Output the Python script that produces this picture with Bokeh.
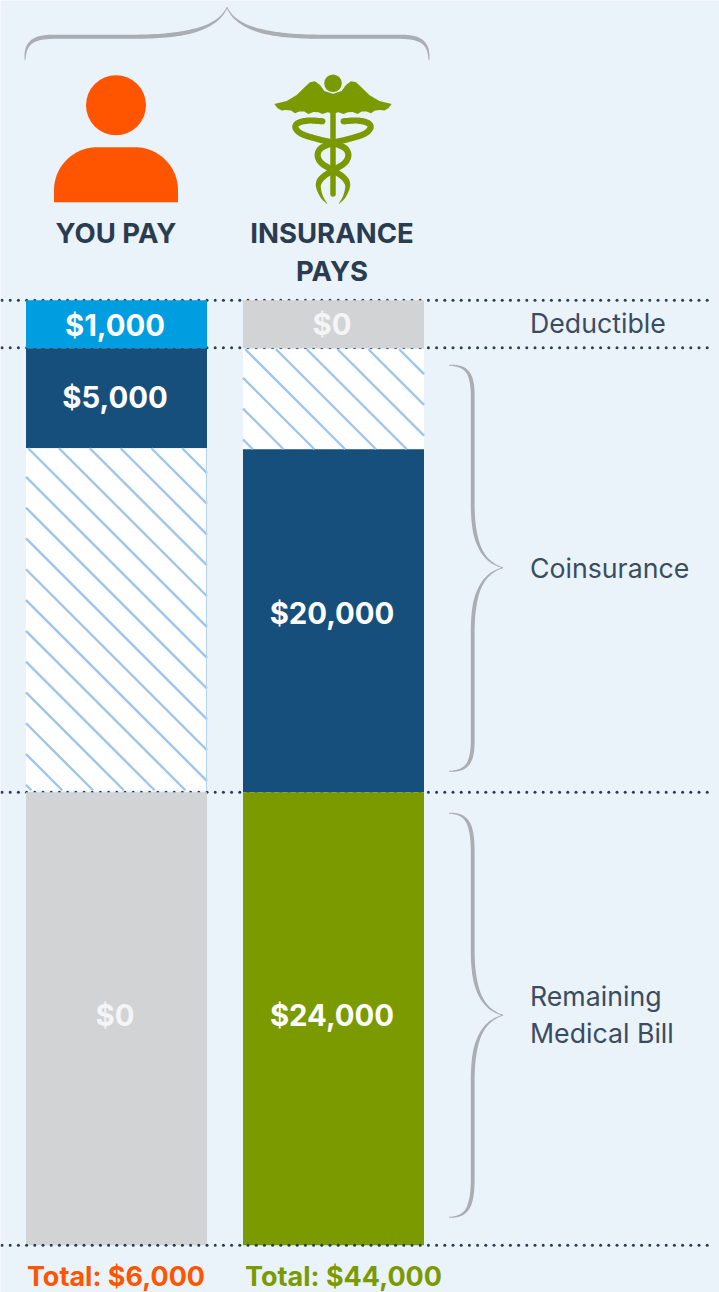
import numpy as np
from bokeh.plotting import figure
from bokeh.models import Range1d
from bokeh.core.properties import value
from bokeh.embed import file_html
from bokeh.resources import INLINE

# ---- chart content
rows = ["Deductible", "Coinsurance", "Coinsurance share", "Remaining Medical Bill"]
you_labels = ["$1,000", "$5,000", "", "$0"]
ins_labels = ["$0", "", "$20,000", "$24,000"]
you_heights = [48, 100, 342, 453]      # drawn heights, not proportional to dollars
ins_heights = [48, 100, 343, 453]
you_gaps = [0, 0, 2, 0]
ins_gaps = [1, 0, 0, 0]
you_colors = ["#009ee0", "#174f7c", "#ffffff", "#d2d3d5"]
ins_colors = ["#d2d3d5", "#ffffff", "#174f7c", "#7a9a00"]
you_total = "Total: $6,000"
ins_total = "Total: $44,000"
headers = ["YOU PAY", ["INSURANCE", "PAYS"]]
band_labels = [["Deductible"], ["Coinsurance"], ["Remaining", "Medical Bill"]]

# ---- layout
W, H = 719, 1292
BG = "#eaf2fa"; INK = "#2a3d50"; ORANGE = "#ff5500"; GREEN = "#7a9a00"
BRACE = "#aaadb2"; HATCH = "#9fc6ea"
FONT = value("Inter")
BAR_TOP = 300; BAR_W = 181
X_YOU = 116.5; X_INS = 333.5
YOU_LABEL_Y = [325, 397, 0, 1015]
INS_LABEL_Y = [324, 0, 613, 1015]
SHIFT_X = 0.5; SHIFT_Y = 0.25

p = figure(width=W, height=H, x_range=Range1d(SHIFT_X, W + SHIFT_X), y_range=Range1d(H + SHIFT_Y, SHIFT_Y),
           toolbar_location=None, output_backend="svg", min_border=0,
           background_fill_color=BG, border_fill_color=BG, outline_line_color=None)
p.axis.visible = False
p.grid.visible = False
p.styles = {"position": "absolute", "left": "0px", "top": "0px"}


def dotted(y):
    xs = np.arange(2, 712, 8.2)
    p.scatter(xs, np.full_like(xs, y), size=3, marker="circle", fill_color=INK, line_color=None)


for y in (300, 347.5, 792):
    dotted(y)


def hatch_lines(x0, x1, y0, y1, c0, period=30.8):
    xs, ys = [], []
    k0 = int(np.floor(((x0 - y1) - c0) / period))
    k1 = int(np.ceil(((x1 - y0) - c0) / period))
    for k in range(k0, k1 + 1):
        c = c0 + k * period             # line: x - y = c
        a_y = max(y0, x0 - c); b_y = min(y1, x1 - c)
        if b_y > a_y:
            xs.append([a_y + c, b_y + c]); ys.append([a_y, b_y])
    return xs, ys


def column(xc, heights, gaps, colors, labels, label_y, c0):
    h = np.array(heights, float); g = np.array(gaps, float)
    tops = BAR_TOP + np.concatenate([[0], np.cumsum(h + g)[:-1]])
    bottoms = tops + h
    p.quad(left=xc - BAR_W / 2, right=xc + BAR_W / 2, top=tops, bottom=bottoms,
           fill_color=colors, line_color=None)
    for t, b, col in zip(tops, bottoms, colors):
        if col == "#ffffff":
            xs, ys = hatch_lines(xc - BAR_W / 2, xc + BAR_W / 2, t, b, c0)
            p.multi_line(xs, ys, line_color=HATCH, line_width=2.4)
    for lab, ly, col in zip(labels, label_y, colors):
        if lab:
            p.text([xc - 1.5], [ly], text=[lab], text_font=FONT, text_font_style="bold",
                   text_font_size="29.3px", text_align="center", text_baseline="middle",
                   text_color="#f4f5f6" if col == "#d2d3d5" else "#ffffff")


column(X_YOU, you_heights, you_gaps, you_colors, you_labels, YOU_LABEL_Y, -389)
column(X_INS, ins_heights, ins_gaps, ins_colors, ins_labels, INS_LABEL_Y, -73)
p.line([206.5, 206.5], [448, 790], line_color="#b5d5f3", line_width=1)
dotted(1245)


# ---- braces
def bez(p0, p1, p2, p3, n=40):
    t = np.linspace(0, 1, n)[:, None]
    p0, p1, p2, p3 = map(np.array, (p0, p1, p2, p3))
    return (1 - t) ** 3 * p0 + 3 * (1 - t) ** 2 * t * p1 + 3 * (1 - t) * t ** 2 * p2 + t ** 3 * p3


def ribbon(pts, widths):
    pts = np.asarray(pts, float)
    d = np.gradient(pts, axis=0)
    d /= np.maximum(np.hypot(d[:, 0], d[:, 1]), 1e-6)[:, None]
    nrm = np.stack([-d[:, 1], d[:, 0]], axis=1) * (np.asarray(widths) / 2)[:, None]
    a = pts + nrm; b = (pts - nrm)[::-1]
    poly = np.vstack([a, b])
    return poly[:, 0].tolist(), poly[:, 1].tolist()


def half_brace(a0, am, b0, bs, bt, r, R, wmax=3.0):
    """along coordinate a, depth coordinate b; from the end to the tip."""
    s = np.sign(am - a0)
    c1 = bez((b0, a0), (b0 + 0.75 * (bs - b0), a0), (bs, a0 + s * 0.25 * r), (bs, a0 + s * r))
    c2 = np.linspace((bs, a0 + s * r), (bs, am - s * R), 20)
    c3 = bez((bs, am - s * R), (bs, am - s * 0.45 * R), (bs + 0.25 * (bt - bs), am - s * 0.1 * R), (bt, am))
    pts = np.vstack([c1, c2[1:], c3[1:]])
    seg = np.hypot(*np.diff(pts, axis=0).T)
    u = np.concatenate([[0], np.cumsum(seg)]) / seg.sum()
    w = 0.8 + (wmax - 0.8) * np.minimum(1, u / 0.12) * np.minimum(1, (1 - u) / 0.2)
    return pts, w


def draw_brace(a0, am, a1, b0, bs, bt, r, R, vertical=True, wmax=3.8):
    for end in (a0, a1):
        pts, w = half_brace(end, am, b0, bs, bt, r, R, wmax)
        if not vertical:
            pts = pts[:, ::-1]
        x, y = ribbon(pts, w)
        p.patch(x, y, fill_color=BRACE, line_color=None)


draw_brace(365, 567.5, 771, 449, 472.7, 503, 31, 64)
draw_brace(813, 1015, 1217, 449, 472.7, 503, 39, 65)
draw_brace(25, 227, 429, 60, 36.5, 7, 30, 95, vertical=False, wmax=4.2)

# ---- person icon
p.scatter([116], [105], size=60, marker="circle", fill_color=ORANGE, line_color=None)
th = np.linspace(np.pi, 1.5 * np.pi, 30)
arc_l = np.c_[97 + 43 * np.cos(th), 190 + 43 * np.sin(th)]
arc_r = np.c_[135 - 43 * np.cos(th[::-1]), 190 + 43 * np.sin(th[::-1])]
body = np.vstack([[[54, 202]], arc_l, arc_r, [[178, 202]]])
p.patch(body[:, 0], body[:, 1], fill_color=ORANGE, line_color=None)


# ---- caduceus icon, traced in a 3x crop whose origin is (265, 68)
def zx(v): return 265 + np.asarray(v, float) / 3
def zy(v): return 68 + np.asarray(v, float) / 3


def catmull(pts, n=12):
    pts = np.asarray(pts, float)
    q = np.vstack([2 * pts[0] - pts[1], pts, 2 * pts[-1] - pts[-2]])
    out = []
    for i in range(1, len(q) - 2):
        t = np.linspace(0, 1, n, endpoint=False)[:, None]
        out.append(0.5 * (2 * q[i] + (q[i + 1] - q[i - 1]) * t
                          + (2 * q[i - 1] - 5 * q[i] + 4 * q[i + 1] - q[i + 2]) * t ** 2
                          + (3 * q[i] - q[i - 1] - 3 * q[i + 1] + q[i + 2]) * t ** 3))
    out.append(q[-2:-1])
    return np.vstack(out)


wing = np.array([[208, 78], [178, 68], [165, 50], [150, 39], [135, 42], [118, 58], [95, 80],
                 [65, 98], [28, 107], [38, 120], [50, 127], [62, 125], [78, 127], [90, 135],
                 [103, 130], [118, 130], [130, 137], [145, 131], [160, 132], [172, 137],
                 [188, 132], [208, 137]], float)
for m in (1, -1):
    p.patch(zx(204 + m * (wing[:, 0] - 204)), zy(wing[:, 1]), fill_color=GREEN, line_color=None)
p.scatter([float(zx(204))], [float(zy(45))], size=17.5, marker="circle", fill_color=GREEN, line_color=None)
p.line(zx([204, 204]), zy([90, 377]), line_color=GREEN, line_width=5.5, line_cap="round")

snake = [[172, 159], [130, 157], [98, 165], [92, 180], [112, 198], [160, 213], [204, 224],
         [240, 240], [250, 262], [238, 285], [204, 306], [172, 328], [160, 352], [170, 385], [186, 406]]
sp = catmull(snake)
sw = np.linspace(0, 1, len(sp))
widths = np.where(sw < 0.82, 6.2, 6.2 - (sw - 0.82) / 0.18 * 5.6)
for m in (1, -1):
    xs = 204 + m * (sp[:, 0] - 204)
    poly = np.c_[zx(xs), zy(sp[:, 1])]
    x, y = ribbon(poly, widths)
    p.patch(x, y, fill_color=GREEN, line_color=None)
    p.scatter([float(zx(204 + m * (172 - 204)))], [float(zy(159))], size=6.2, marker="circle",
              fill_color=GREEN, line_color=None)


# ---- texts
def text(x, y, s, size, color, style="normal", align="center"):
    p.text([x], [y], text=[s], text_font=FONT, text_font_style=style,
           text_font_size=f"{size}px", text_align=align, text_baseline="middle",
           text_color=color)


text(116, 233, headers[0], 27.5, INK, "bold")
text(332, 233, headers[1][0], 27.5, INK, "bold")
text(332, 271, headers[1][1], 27.5, INK, "bold")
text(530, 322.5, band_labels[0][0], 26.7, "#3a4d60", align="left")
text(530, 567.5, band_labels[1][0], 26.7, "#3a4d60", align="left")
text(530, 996, band_labels[2][0], 26.7, "#3a4d60", align="left")
text(530, 1032.5, band_labels[2][1], 26.7, "#3a4d60", align="left")
text(116, 1276.5, you_total, 27, ORANGE, "bold")
text(343.5, 1276.5, ins_total, 27, GREEN, "bold")

open("out.html", "w").write(file_html(p, INLINE))
